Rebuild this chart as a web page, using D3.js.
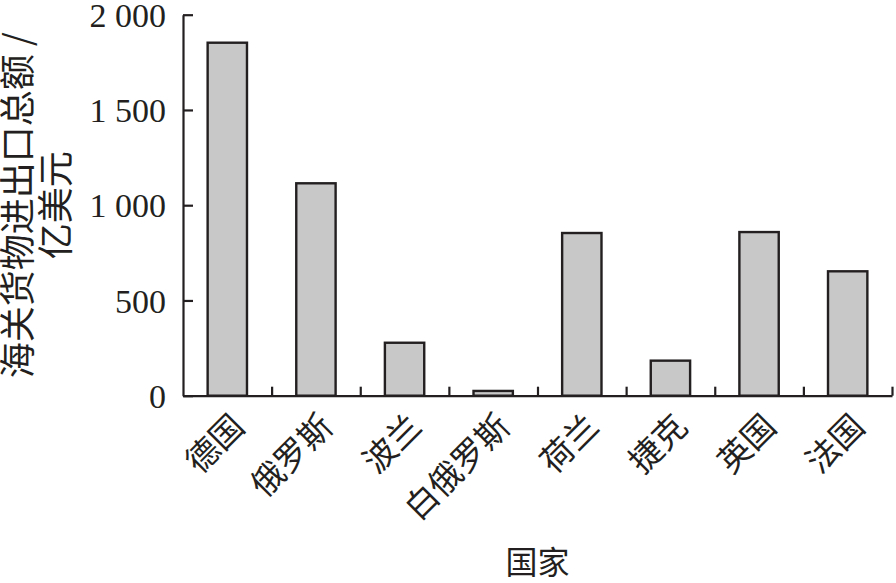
<!DOCTYPE html>
<html>
<head>
<meta charset="utf-8">
<script src="https://cdn.jsdelivr.net/npm/d3@7"></script>
<style>
  body { margin: 0; background: #fff; }
  .num { font-family: "Liberation Serif", "Times New Roman", serif; }
  .cjk { font-family: "Noto Sans CJK SC", sans-serif; }
</style>
</head>
<body>
<div id="chart"></div>
<script>
const countries = ["德国", "俄罗斯", "波兰", "白俄罗斯", "荷兰", "捷克", "英国", "法国"];
const tradeTotals = [1853, 1115, 278, 25, 854, 184, 859, 653];
const yTicks = [0, 500, 1000, 1500, 2000];
const yTitleLines = ["海关货物进出口总额 /", "亿美元"];
const xTitle = "国家";

const fullwidth = 896;
const fullheight = 583;
const ink = "#231f20";
const barFill = "#c8c8c8";

const plotLeft = 183, plotRight = 892, plotTop = 14.7, plotBottom = 395.7;

const svg = d3.select("#chart")
  .append("svg")
  .attr("width", fullwidth)
  .attr("height", fullheight);

const x = d3.scaleBand()
  .domain(countries)
  .range([plotLeft, plotRight])
  .paddingInner(0.556)
  .paddingOuter(0.278);

const y = d3.scaleLinear()
  .domain([0, 2000])
  .range([plotBottom, plotTop]);

// boundaries between categories, for the small upward ticks
const xEdges = d3.scaleLinear()
  .domain([0, countries.length])
  .range([plotLeft, plotRight]);

const fmt = d3.formatLocale({ decimal: ".", thousands: " ", grouping: [3], currency: ["", ""] }).format(",d");

// bars
svg.selectAll("rect.bar")
  .data(countries)
  .enter()
  .append("rect")
  .attr("class", "bar")
  .attr("x", d => x(d))
  .attr("width", x.bandwidth())
  .attr("y", (d, i) => y(tradeTotals[i]))
  .attr("height", (d, i) => y(0) - y(tradeTotals[i]))
  .style("fill", barFill)
  .style("stroke", ink)
  .style("stroke-width", 2.4);

// y axis
const yAxis = svg.append("g")
  .attr("transform", `translate(${plotLeft},0)`)
  .call(d3.axisLeft(y).tickValues(yTicks).tickFormat(fmt).tickSizeInner(-10).tickSizeOuter(0).tickPadding(17));
yAxis.select(".domain").attr("stroke", ink).attr("stroke-width", 2.2);
yAxis.selectAll(".tick line").attr("stroke", ink).attr("stroke-width", 2.2);
yAxis.selectAll(".tick text")
  .attr("class", "num")
  .attr("fill", ink)
  .style("font-size", "34px")
  .attr("dy", "0.34em");

// x axis
const xAxis = svg.append("g")
  .attr("transform", `translate(0,${plotBottom})`)
  .call(d3.axisBottom(xEdges).tickValues(d3.range(1, countries.length + 1)).tickFormat("").tickSizeInner(-9).tickSizeOuter(0));
xAxis.select(".domain").attr("stroke", ink).attr("stroke-width", 2.2);
xAxis.selectAll(".tick line").attr("stroke", ink).attr("stroke-width", 2.2);

// category labels
svg.append("g")
  .selectAll("text")
  .data(countries)
  .enter()
  .append("text")
  .attr("class", "cjk")
  .attr("text-anchor", "end")
  .attr("transform", d => `translate(${x(d) + x.bandwidth() / 2 + 19},${plotBottom + 33}) rotate(-45)`)
  .attr("fill", ink)
  .style("font-size", "33px")
  .text(d => d);

// axis titles
svg.append("text")
  .attr("class", "cjk")
  .attr("text-anchor", "middle")
  .attr("x", (plotLeft + plotRight) / 2)
  .attr("y", 574)
  .attr("fill", ink)
  .style("font-size", "32px")
  .text(xTitle);

const yTitle = svg.append("text")
  .attr("class", "cjk")
  .attr("text-anchor", "middle")
  .attr("transform", `translate(31,${(plotTop + plotBottom) / 2}) rotate(-90)`)
  .attr("fill", ink)
  .style("font-size", "36px");
yTitle.selectAll("tspan")
  .data(yTitleLines)
  .enter()
  .append("tspan")
  .attr("x", 0)
  .attr("dy", (d, i) => i === 0 ? 0 : 38)
  .text(d => d);
</script>
</body>
</html>
